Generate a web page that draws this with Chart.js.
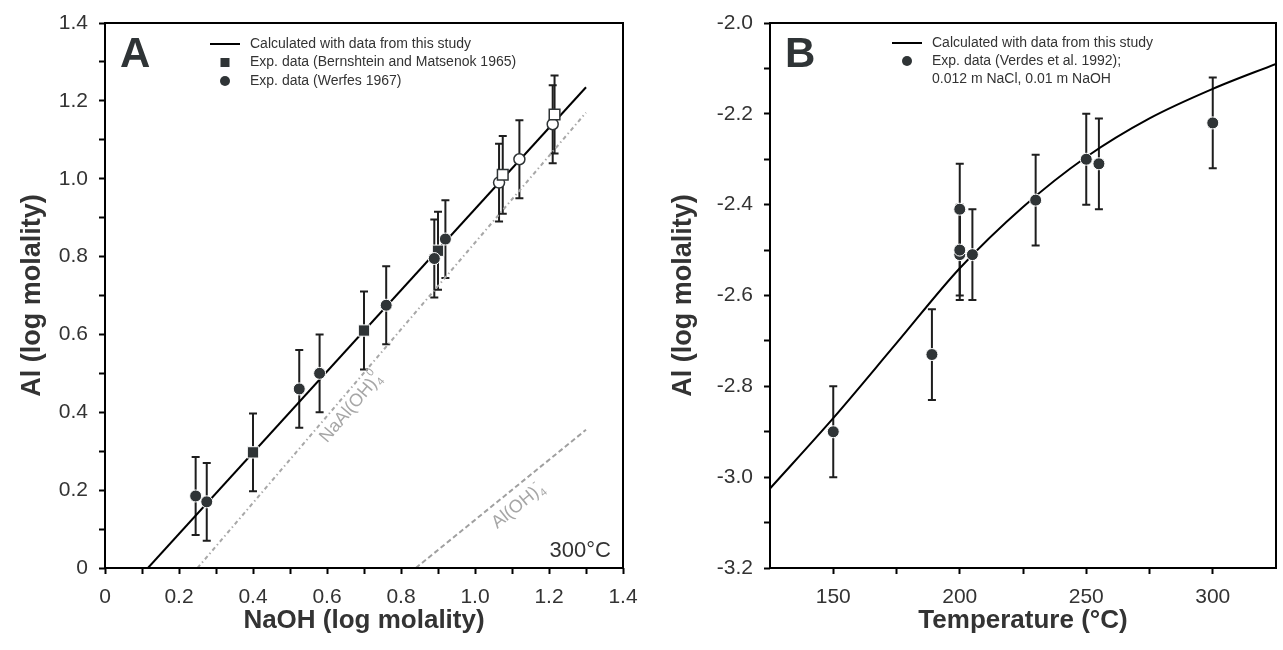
<!DOCTYPE html>
<html>
<head>
<meta charset="utf-8">
<script src="https://cdn.jsdelivr.net/npm/chart.js@4.4.1/dist/chart.umd.min.js"></script>
<style>
  html, body { margin: 0; padding: 0; background: #fff; overflow: hidden; }
  #wrap { position: relative; width: 1283px; height: 650px; }
  canvas { position: absolute; top: 0; }
  #chartA { left: 0; }
  #chartB { left: 640px; }
</style>
</head>
<body>
<div id="wrap">
  <canvas id="chartA" width="640" height="650"></canvas>
  <canvas id="chartB" width="643" height="650"></canvas>
</div>
<script>
// ---- Panel A: Al vs NaOH at 300 °C ----
const calcNaOH = [0.116, 1.30];
const calcAl = [0, 1.235];
const naAlOH4NaOH = [0.25, 1.30];
const naAlOH4Al = [0, 1.17];
const alOH4NaOH = [0.84, 1.30];
const alOH4Al = [0, 0.355];

const bernNaOH = [0.40, 0.70, 0.90];
const bernAl = [0.297, 0.61, 0.815];
const bernErr = [0.1, 0.1, 0.1];
const bernOpenNaOH = [1.075, 1.215];
const bernOpenAl = [1.01, 1.165];
const bernOpenErr = [0.1, 0.1];

const werfNaOH = [0.245, 0.275, 0.525, 0.58, 0.76, 0.89, 0.92];
const werfAl = [0.185, 0.17, 0.46, 0.50, 0.675, 0.795, 0.845];
const werfErr = [0.1, 0.1, 0.1, 0.1, 0.1, 0.1, 0.1];
const werfOpenNaOH = [1.065, 1.12, 1.21];
const werfOpenAl = [0.99, 1.05, 1.14];
const werfOpenErr = [0.1, 0.1, 0.1];

const ticksA = [0, 0.2, 0.4, 0.6, 0.8, 1.0, 1.2, 1.4];
const minorA = [0.1, 0.3, 0.5, 0.7, 0.9, 1.1, 1.3];

// ---- Panel B: Al vs temperature ----
const calcT = [125, 150, 175, 200, 225, 250, 275, 300, 325];
const calcLogAl = [-3.025, -2.87, -2.705, -2.54, -2.405, -2.295, -2.21, -2.145, -2.09];

const verdesT = [150, 189, 200, 200, 200, 205, 230, 250, 255, 300];
const verdesAl = [-2.90, -2.73, -2.41, -2.51, -2.50, -2.51, -2.39, -2.30, -2.31, -2.22];
const verdesErr = [0.1, 0.1, 0.1, 0.1, 0.1, 0.1, 0.1, 0.1, 0.1, 0.1];

const ticksBx = [150, 200, 250, 300];
const minorBx = [175, 225, 275];
const ticksBy = [-3.2, -3.0, -2.8, -2.6, -2.4, -2.2, -2.0];
const minorBy = [-3.1, -2.9, -2.7, -2.5, -2.3, -2.1];

const FONT = '"Liberation Sans", Arial, Helvetica, sans-serif';
const DARK = '#2f3436';
const TEXT = '#333';

const pts = (xs, ys) => xs.map((x, i) => ({ x: x, y: ys[i] }));

function isMajor(v, list) {
  return list.some(t => Math.abs(t - v) < 1e-6);
}

// vertical error bars, drawn under the markers
const errorBars = {
  id: 'errorBars',
  beforeDatasetsDraw(chart) {
    const ctx = chart.ctx;
    const xs = chart.scales.x, ys = chart.scales.y;
    ctx.save();
    ctx.strokeStyle = '#1e1e1e';
    ctx.lineWidth = 2;
    chart.data.datasets.forEach(ds => {
      if (!ds.yErr) return;
      ds.data.forEach((p, i) => {
        const px = xs.getPixelForValue(p.x);
        const top = ys.getPixelForValue(p.y + ds.yErr[i]);
        const bot = ys.getPixelForValue(p.y - ds.yErr[i]);
        ctx.beginPath();
        ctx.moveTo(px, top); ctx.lineTo(px, bot);
        ctx.moveTo(px - 4, top); ctx.lineTo(px + 4, top);
        ctx.moveTo(px - 4, bot); ctx.lineTo(px + 4, bot);
        ctx.stroke();
      });
    });
    ctx.restore();
  }
};

// box round the plot area
const frame = {
  id: 'frame',
  afterDatasetsDraw(chart) {
    const a = chart.chartArea, ctx = chart.ctx;
    ctx.save();
    ctx.strokeStyle = '#000';
    ctx.lineWidth = 2;
    ctx.strokeRect(a.left, a.top, a.right - a.left, a.bottom - a.top);
    ctx.restore();
  }
};

function drawLegend(ctx, a, cfg) {
  ctx.save();
  ctx.font = '14px ' + FONT;
  ctx.fillStyle = TEXT;
  ctx.textBaseline = 'middle';
  cfg.rows.forEach((r, i) => {
    const y = a.top + cfg.top + i * cfg.rowH;
    const cx = a.left + cfg.x + 15;
    if (r.mark === 'line') {
      ctx.strokeStyle = '#000';
      ctx.lineWidth = 2;
      ctx.beginPath();
      ctx.moveTo(a.left + cfg.x, y);
      ctx.lineTo(a.left + cfg.x + 30, y);
      ctx.stroke();
    } else if (r.mark === 'square') {
      ctx.fillStyle = DARK;
      ctx.fillRect(cx - 4.5, y - 4.5, 9, 9);
    } else if (r.mark === 'circle') {
      ctx.fillStyle = DARK;
      ctx.beginPath();
      ctx.arc(cx, y, 5, 0, Math.PI * 2);
      ctx.fill();
    }
    ctx.fillStyle = TEXT;
    ctx.fillText(r.text, a.left + cfg.x + 40, y);
  });
  ctx.restore();
}

function panelLetter(ctx, a, letter) {
  ctx.save();
  ctx.font = 'bold 42px ' + FONT;
  ctx.fillStyle = DARK;
  ctx.textBaseline = 'alphabetic';
  ctx.fillText(letter, a.left + 15, a.top + 44);
  ctx.restore();
}

// label running along a reference line, with subscript and superscript
function chemLabel(chart, at, lineX, lineY, base, sub, sup) {
  const ctx = chart.ctx, xs = chart.scales.x, ys = chart.scales.y;
  const x1 = xs.getPixelForValue(lineX[0]), y1 = ys.getPixelForValue(lineY[0]);
  const x2 = xs.getPixelForValue(lineX[1]), y2 = ys.getPixelForValue(lineY[1]);
  const ang = Math.atan2(y1 - y2, x2 - x1);
  ctx.save();
  ctx.translate(xs.getPixelForValue(at[0]), ys.getPixelForValue(at[1]));
  ctx.rotate(-ang);
  ctx.fillStyle = '#a6a6a6';
  ctx.textBaseline = 'alphabetic';
  ctx.font = '18px ' + FONT;
  ctx.fillText(base, 0, 0);
  const w = ctx.measureText(base).width;
  ctx.font = '11px ' + FONT;
  ctx.fillText(sub, w + 1, 4);
  ctx.fillText(sup, w + 1, -10);
  ctx.restore();
}

const notesA = {
  id: 'notesA',
  afterDraw(chart) {
    const a = chart.chartArea, ctx = chart.ctx;
    panelLetter(ctx, a, 'A');
    drawLegend(ctx, a, {
      x: 105, top: 21, rowH: 18.5,
      rows: [
        { mark: 'line', text: 'Calculated with data from this study' },
        { mark: 'square', text: 'Exp. data (Bernshtein and Matsenok 1965)' },
        { mark: 'circle', text: 'Exp. data (Werfes 1967)' }
      ]
    });
    chemLabel(chart, [0.60, 0.32], naAlOH4NaOH, naAlOH4Al, 'NaAl(OH)', '4', '0');
    chemLabel(chart, [1.06, 0.10], alOH4NaOH, alOH4Al, 'Al(OH)', '4', '-');
    ctx.save();
    ctx.font = '22px ' + FONT;
    ctx.fillStyle = TEXT;
    ctx.textAlign = 'right';
    ctx.textBaseline = 'alphabetic';
    ctx.fillText('300°C', a.right - 12, a.bottom - 11);
    ctx.restore();
  }
};

const notesB = {
  id: 'notesB',
  afterDraw(chart) {
    const a = chart.chartArea, ctx = chart.ctx;
    panelLetter(ctx, a, 'B');
    drawLegend(ctx, a, {
      x: 122, top: 20, rowH: 18,
      rows: [
        { mark: 'line', text: 'Calculated with data from this study' },
        { mark: 'circle', text: 'Exp. data (Verdes et al. 1992);' },
        { mark: 'none', text: '0.012 m NaCl, 0.01 m NaOH' }
      ]
    });
  }
};

function axis(min, max, major, minor, fmt, title, titleSize, titlePad, fit) {
  return {
    type: 'linear',
    min: min,
    max: max,
    afterBuildTicks(scale) {
      scale.ticks = major.concat(minor).sort((p, q) => p - q).map(v => ({ value: v }));
    },
    afterFit(scale) {
      fit(scale);
      // keep edge tick labels from shrinking the plot area
      scale.paddingLeft = 0; scale.paddingRight = 0;
      scale.paddingTop = 0; scale.paddingBottom = 0;
    },
    border: { display: false },
    grid: {
      drawOnChartArea: false,
      drawTicks: true,
      tickLength: 6,
      tickColor: '#000',
      tickWidth: 2
    },
    ticks: {
      autoSkip: false,
      maxRotation: 0,
      padding: 11,
      color: TEXT,
      font: { family: FONT, size: 21 },
      callback: v => isMajor(v, major) ? fmt(v) : ''
    },
    title: {
      display: true,
      text: title,
      color: TEXT,
      padding: titlePad,
      font: { family: FONT, size: titleSize, weight: 'bold' }
    }
  };
}

const baseOptions = {
  responsive: false,
  animation: false,
  plugins: { legend: { display: false }, tooltip: { enabled: false } }
};

new Chart(document.getElementById('chartA'), {
  type: 'scatter',
  data: {
    datasets: [
      { data: pts(werfNaOH, werfAl), yErr: werfErr, pointStyle: 'circle', pointRadius: 6,
        backgroundColor: DARK, borderColor: '#fff', borderWidth: 1, order: 1 },
      { data: pts(bernNaOH, bernAl), yErr: bernErr, pointStyle: 'rect', pointRadius: 8,
        backgroundColor: DARK, borderColor: '#fff', borderWidth: 1, order: 2 },
      { data: pts(werfOpenNaOH, werfOpenAl), yErr: werfOpenErr, pointStyle: 'circle', pointRadius: 5.5,
        backgroundColor: '#fff', borderColor: DARK, borderWidth: 1.5, order: 4 },
      { data: pts(bernOpenNaOH, bernOpenAl), yErr: bernOpenErr, pointStyle: 'rect', pointRadius: 7.5,
        backgroundColor: '#fff', borderColor: DARK, borderWidth: 1.5, order: 3 },
      { data: pts(calcNaOH, calcAl), showLine: true, pointRadius: 0, borderColor: '#000',
        borderWidth: 2, order: 5 },
      { data: pts(naAlOH4NaOH, naAlOH4Al), showLine: true, pointRadius: 0, borderColor: '#a8a8a8',
        borderWidth: 2, borderDash: [4, 3, 1.5, 3], order: 6 },
      { data: pts(alOH4NaOH, alOH4Al), showLine: true, pointRadius: 0, borderColor: '#a0a0a0',
        borderWidth: 2, borderDash: [5, 3], order: 7 }
    ]
  },
  options: Object.assign({}, baseOptions, {
    layout: { padding: { top: 23, right: 17, left: 0, bottom: 0 } },
    scales: {
      x: axis(0, 1.4, ticksA, minorA, v => v === 0 ? '0' : v.toFixed(1),
        'NaOH (log molality)', 26, { top: 0, bottom: 14 }, s => { s.height = 82; }),
      y: axis(0, 1.4, ticksA, minorA, v => v === 0 ? '0' : v.toFixed(1),
        'Al (log molality)', 27, { top: 16, bottom: 0 }, s => { s.width = 105; })
    }
  }),
  plugins: [errorBars, frame, notesA]
});

new Chart(document.getElementById('chartB'), {
  type: 'scatter',
  data: {
    datasets: [
      { data: pts(verdesT, verdesAl), yErr: verdesErr, pointStyle: 'circle', pointRadius: 6,
        backgroundColor: DARK, borderColor: '#fff', borderWidth: 1, order: 1 },
      { data: pts(calcT, calcLogAl), showLine: true, pointRadius: 0, borderColor: '#000',
        borderWidth: 2, cubicInterpolationMode: 'monotone', order: 2 }
    ]
  },
  options: Object.assign({}, baseOptions, {
    layout: { padding: { top: 23, right: 3, left: 0, bottom: 0 } },
    scales: {
      x: axis(125, 325, ticksBx, minorBx, v => String(v),
        'Temperature (°C)', 26, { top: 0, bottom: 14 }, s => { s.height = 82; }),
      y: axis(-3.2, -2.0, ticksBy, minorBy, v => v.toFixed(1),
        'Al (log molality)', 27, { top: 27, bottom: 0 }, s => { s.width = 130; })
    }
  }),
  plugins: [errorBars, frame, notesB]
});
</script>
</body>
</html>
